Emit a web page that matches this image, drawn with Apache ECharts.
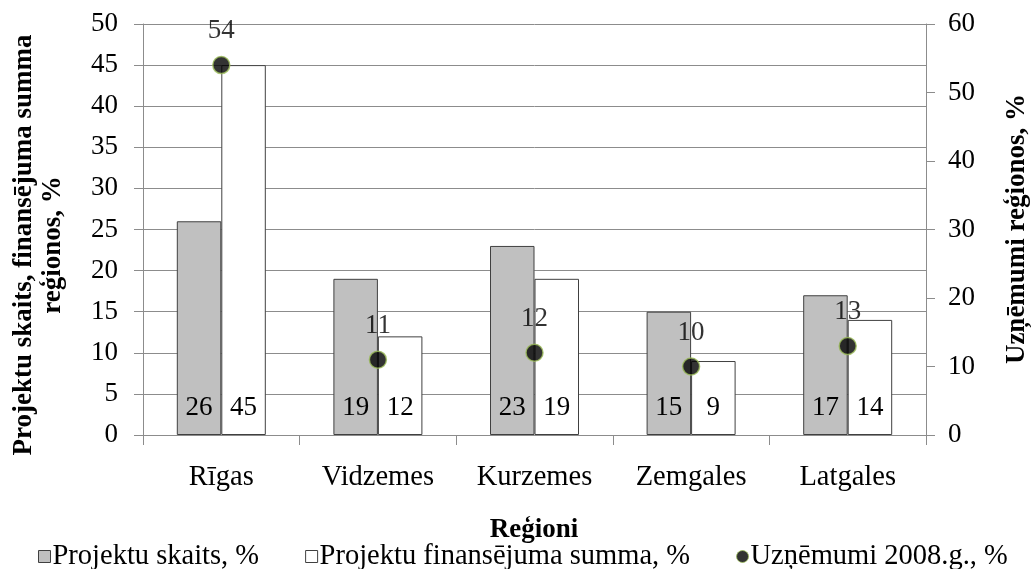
<!DOCTYPE html>
<html>
<head>
<meta charset="utf-8">
<script src="https://cdn.jsdelivr.net/npm/echarts@6/dist/echarts.min.js"></script>
<style>
html,body{margin:0;padding:0;background:#fff;}
#chart{width:1031px;height:569px;}
</style>
</head>
<body>
<div id="chart"></div>
<script>
var categories = ['Rīgas', 'Vidzemes', 'Kurzemes', 'Zemgales', 'Latgales'];
var projektuSkaits = [26, 19, 23, 15, 17];
var finansejumaSumma = [45, 12, 19, 9, 14];
var uznemumi2008 = [54, 11, 12, 10, 13];
var leftTicks = [0, 50, 5];
var rightTicks = [0, 60, 10];
var seriesNames = ['Projektu skaits, %', 'Projektu finansējuma summa, %', 'Uzņēmumi 2008.g., %'];

var FONT = '"Liberation Serif", "Times New Roman", serif';
var AX = '#8c8c8c';

var chart = echarts.init(document.getElementById('chart'), null, {renderer: 'canvas'});
chart.setOption({
  backgroundColor: '#ffffff',
  animation: false,
  textStyle: {fontFamily: FONT, color: '#000'},
  grid: {left: 143, right: 105, top: 24, bottom: 134, containLabel: false},
  title: {
    text: 'Reģioni',
    left: 534, textAlign: 'center',
    top: 517,
    padding: 0,
    textStyle: {fontFamily: FONT, fontSize: 27, fontWeight: 'bold', color: '#000', lineHeight: 27}
  },
  legend: {
    left: 38, top: 542,
    itemWidth: 12, itemHeight: 12, itemGap: 46,
    padding: 0,
    textStyle: {fontFamily: FONT, fontSize: 28.5, color: '#000', lineHeight: 28, padding: [0, 0, 0, -3]},
    data: [
      {name: seriesNames[0], icon: 'rect', itemStyle: {color: '#c0c0c0', borderColor: '#404040', borderWidth: 1}},
      {name: seriesNames[1], icon: 'rect', itemStyle: {color: '#ffffff', borderColor: '#404040', borderWidth: 1}},
      {name: seriesNames[2], icon: 'circle', itemStyle: {color: '#000000', borderColor: '#9bbb59', borderWidth: 1}}
    ]
  },
  xAxis: {
    type: 'category',
    data: categories,
    axisLine: {lineStyle: {color: AX, width: 1}},
    axisTick: {show: true, length: 10, inside: false, lineStyle: {color: AX}},
    axisLabel: {fontFamily: FONT, fontSize: 28.5, color: '#000', margin: 29, lineHeight: 28},
    splitLine: {show: false}
  },
  yAxis: [
    {
      type: 'value', min: leftTicks[0], max: leftTicks[1], interval: leftTicks[2],
      axisLine: {show: true, lineStyle: {color: AX}},
      axisTick: {show: true, length: 9, lineStyle: {color: AX}},
      axisLabel: {fontFamily: FONT, fontSize: 27, color: '#000', margin: 25},
      splitLine: {show: true, lineStyle: {color: AX, width: 1}}
    },
    {
      type: 'value', min: rightTicks[0], max: rightTicks[1], interval: rightTicks[2],
      position: 'right',
      axisLine: {show: true, lineStyle: {color: AX}},
      axisTick: {show: true, length: 9, lineStyle: {color: AX}},
      axisLabel: {fontFamily: FONT, fontSize: 27, color: '#000', margin: 22},
      splitLine: {show: false}
    }
  ],
  graphic: [
    {
      type: 'text', x: 39, y: 245, rotation: Math.PI / 2,
      style: {
        text: 'Projektu skaits, finansējuma summa\nreģionos, %',
        font: 'bold 27px ' + FONT, fill: '#000',
        align: 'center', verticalAlign: 'middle', lineHeight: 29
      }
    },
    {
      type: 'text', x: 1017, y: 229, rotation: Math.PI / 2,
      style: {
        text: 'Uzņēmumi reģionos, %',
        font: 'bold 27px ' + FONT, fill: '#000',
        align: 'center', verticalAlign: 'middle'
      }
    }
  ],
  series: [
    {
      name: seriesNames[0], type: 'bar', yAxisIndex: 0,
      data: projektuSkaits,
      barWidth: 44.5, barGap: '0%',
      itemStyle: {color: '#c0c0c0', borderColor: '#404040', borderWidth: 1},
      label: {show: true, position: 'insideBottom', distance: 14, fontFamily: FONT, fontSize: 27, color: '#000', lineHeight: 27}
    },
    {
      name: seriesNames[1], type: 'bar', yAxisIndex: 0,
      data: finansejumaSumma,
      barWidth: 44.5, barGap: '0%',
      itemStyle: {color: '#ffffff', borderColor: '#404040', borderWidth: 1},
      label: {show: true, position: 'insideBottom', distance: 14, fontFamily: FONT, fontSize: 27, color: '#000', lineHeight: 27}
    },
    {
      name: seriesNames[2], type: 'scatter', yAxisIndex: 1,
      data: uznemumi2008,
      symbol: 'circle', symbolSize: 17, z: 5,
      itemStyle: {color: '#000000', borderColor: '#9bbb59', borderWidth: 1.5},
      label: {show: true, position: 'top', distance: 11, fontFamily: FONT, fontSize: 27, color: '#000', lineHeight: 27}
    }
  ]
});
</script>
</body>
</html>
